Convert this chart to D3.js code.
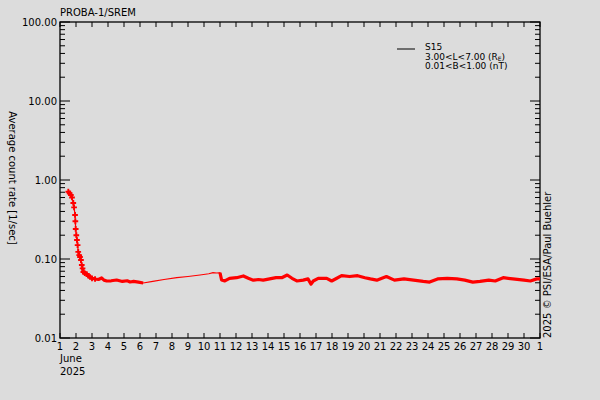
<!DOCTYPE html>
<html>
<head>
<meta charset="utf-8">
<script src="https://cdn.jsdelivr.net/npm/d3@7"></script>
<style>
body{margin:0;background:#dcdcdc;}
text{font-family:"DejaVu Sans",sans-serif;font-size:10px;fill:#000;}
</style>
</head>
<body>
<div id="chart"></div>
<script>
// day of June 2025 (fractional) and S15 count rate
var days = [1.52,1.6,1.68,1.75,1.83,1.88,1.94,1.96,1.98,2.02,2.06,2.1,2.14,2.2,2.25,2.31,2.36,2.41,2.46,2.55,2.67,2.78,2.88,3.0,3.19,3.4,3.6,3.75,3.92,4.2,4.54,4.9,5.2,5.38,5.6,5.9,6.2,
  6.8,7.5,8.3,9.0,9.75,10.3,10.56,10.8,11.0,11.1,11.3,11.6,12.04,12.46,12.77,13.08,13.4,13.7,14.1,14.5,14.86,15.2,15.5,15.8,16.2,16.5,16.69,16.83,17.14,17.67,17.98,18.3,18.6,19.1,19.6,20.06,20.4,20.8,
  21.0,21.4,21.9,22.5,23.1,23.7,24.1,24.6,25.2,25.8,26.3,26.8,27.25,27.8,28.2,28.7,29.3,30.0,30.4,30.8,31.0];
var rates = [0.711,0.68,0.646,0.6,0.512,0.45,0.361,0.3,0.24,0.2,0.174,0.15,0.123,0.112,0.106,0.097,0.084,0.076,0.0685,0.066,0.0646,0.061,0.0592,0.057,0.0558,0.055,0.0575,0.054,0.0527,0.053,0.0542,0.052,0.053,0.0512,0.052,0.051,0.0497,
  0.052,0.055,0.058,0.06,0.0627,0.065,0.0672,0.0665,0.067,0.0542,0.0527,0.057,0.058,0.061,0.057,0.054,0.055,0.054,0.056,0.058,0.058,0.0627,0.057,0.0527,0.054,0.056,0.048,0.0527,0.057,0.057,0.0527,0.057,0.0615,0.06,0.0615,0.058,0.056,0.054,
  0.056,0.06,0.054,0.056,0.054,0.052,0.051,0.056,0.057,0.056,0.054,0.051,0.052,0.054,0.0527,0.058,0.056,0.054,0.0527,0.056,0.056];
var yTicks = [0.01,0.1,1,10,100];
var xTickLabels = ["1","2","3","4","5","6","7","8","9","10","11","12","13","14","15","16","17","18","19","20","21","22","23","24","25","26","27","28","29","30","1"];
var legendLines = ["S15","3.00<L<7.00 (R","0.01<B<1.00 (nT)"];

var W = 600, H = 400;
var L = 60, R = 540, T = 22, B = 338;

var svg = d3.select("#chart").append("svg")
  .attr("width", W).attr("height", H)
  .style("background", "#dcdcdc");

var x = d3.scaleLinear().domain([1,31]).range([L,R]);
var y = d3.scaleLog().domain([0.01,100]).range([B,T]);

// frame
svg.append("rect").attr("x",L).attr("y",T).attr("width",R-L).attr("height",B-T)
  .attr("fill","none").attr("stroke","#000").attr("stroke-width",1.3);

// day ticks top and bottom
var dayTicks = d3.range(1,32);
svg.selectAll(".xb").data(dayTicks).join("line")
  .attr("x1",d=>x(d)).attr("x2",d=>x(d)).attr("y1",B).attr("y2",B-5)
  .attr("stroke","#000");
svg.selectAll(".xt").data(dayTicks).join("line")
  .attr("x1",d=>x(d)).attr("x2",d=>x(d)).attr("y1",T).attr("y2",T+5)
  .attr("stroke","#000");
svg.selectAll(".xl").data(dayTicks).join("text")
  .attr("x",d=>x(d)).attr("y",350)
  .attr("text-anchor","middle")
  .text((d,i)=>xTickLabels[i]);
svg.append("text").attr("x",L).attr("y",362).text("June");
svg.append("text").attr("x",L).attr("y",375).text("2025");

// log ticks left and right
var minor = [];
yTicks.slice(0,-1).forEach(function(d){
  for(var k=2;k<10;k++) minor.push(d*k);
});
[[L,1],[R,-1]].forEach(function(s){
  svg.selectAll(null).data(yTicks).join("line")
    .attr("x1",s[0]).attr("x2",s[0]+s[1]*10)
    .attr("y1",d=>y(d)).attr("y2",d=>y(d)).attr("stroke","#000");
  svg.selectAll(null).data(minor).join("line")
    .attr("x1",s[0]).attr("x2",s[0]+s[1]*5)
    .attr("y1",d=>y(d)).attr("y2",d=>y(d)).attr("stroke","#000");
});
svg.selectAll(".yl").data(yTicks).join("text")
  .attr("x",57).attr("y",d=>y(d)+4)
  .attr("text-anchor","end")
  .text(d3.format(".2f"));

// titles
svg.append("text").attr("x",L).attr("y",16).text("PROBA-1/SREM");
svg.append("text")
  .attr("transform","translate(9,178) rotate(90)")
  .attr("text-anchor","middle")
  .text("Average count rate [1/sec]");
svg.append("text")
  .attr("transform","translate(551,338) rotate(-90)")
  .text("2025 \u00a9 PSI/ESA/Paul Buehler");

// legend
svg.append("line").attr("x1",397).attr("x2",415).attr("y1",49).attr("y2",49)
  .attr("stroke","#000");
legendLines.forEach(function(t,i){
  var tx = svg.append("text").attr("x",425).attr("y",50+i*9.5)
    .style("font-size","9px").text(t);
  if(i==1){
    tx.append("tspan").attr("dy",1.5).style("font-size","6px").text("E");
    tx.append("tspan").attr("dy",-1.5).text(")");
  }
});

// data
var pts = days.map((d,i)=>[d,rates[i]]);
var line = d3.line().x(d=>x(d[0])).y(d=>y(d[1]));
svg.append("path").datum(pts)
  .attr("fill","none").attr("stroke","#ff0000").attr("stroke-width",1.2)
  .attr("d", line);
[pts.filter(d=>d[0]>=2.4&&d[0]<6.5), pts.filter(d=>d[0]>10.9)].forEach(function(seg){
  svg.append("path").datum(seg)
    .attr("fill","none").attr("stroke","#ff0000").attr("stroke-width",3.2)
    .attr("stroke-linejoin","round")
    .attr("d", line);
});
svg.selectAll(".pt").data(pts.filter(d=>d[0]<3.2)).join("path")
  .attr("transform",d=>"translate("+x(d[0])+","+y(d[1])+")")
  .attr("d", d3.symbol().type(d3.symbolCross).size(18))
  .attr("fill","#ff0000");
</script>
</body>
</html>
